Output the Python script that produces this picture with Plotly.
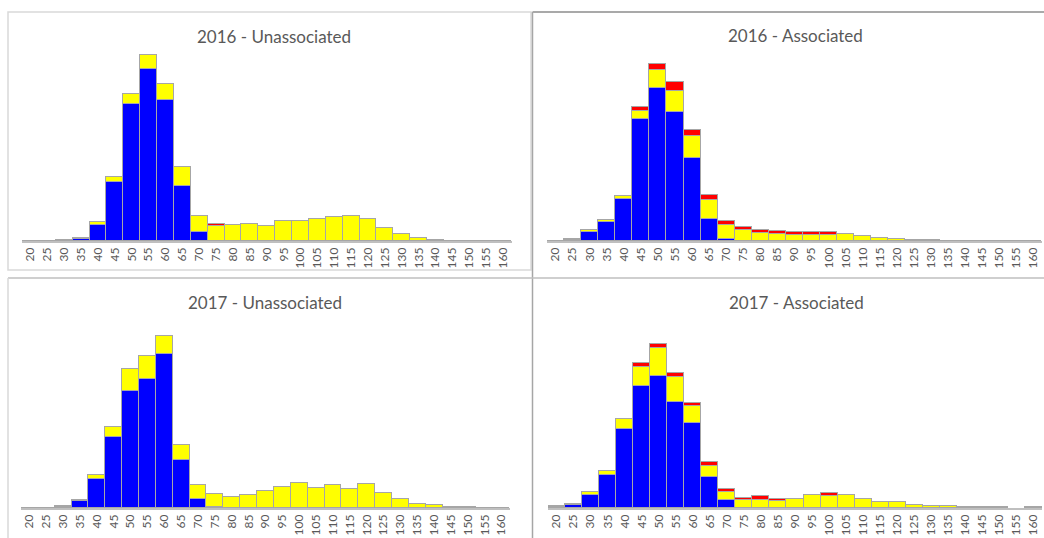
import plotly.graph_objects as go

# Length classes (cm) shared by all four histograms
length_bins = ["20", "25", "30", "35", "40", "45", "50", "55", "60", "65", "70", "75",
               "80", "85", "90", "95", "100", "105", "110", "115", "120", "125", "130",
               "135", "140", "145", "150", "155", "160"]

# 2016 - Unassociated (counts per class)
u16_blue   = [0, 0, 2, 7, 49, 176, 412, 517, 424, 166, 27, 0, 0, 0, 0, 0, 0, 0, 0, 0, 0, 0, 0, 0, 0, 0, 0, 0, 0]
u16_yellow = [1, 1, 2, 3, 8, 15, 30, 40, 46, 56, 49, 45, 47, 51, 45, 61, 61, 67, 73, 76, 67, 39, 21, 9, 4, 1, 1, 1, 1]
u16_red    = [0, 0, 0, 0, 0, 0, 0, 0, 0, 0, 0, 7, 0, 0, 0, 0, 0, 0, 0, 0, 0, 0, 0, 0, 0, 0, 0, 0, 0]

# 2016 - Associated
a16_blue   = [0, 2, 26, 58, 126, 365, 460, 386, 250, 67, 7, 0, 0, 0, 0, 0, 0, 0, 0, 0, 0, 0, 0, 0, 0, 0, 0, 0, 0]
a16_yellow = [1, 3, 6, 4, 9, 26, 52, 64, 64, 57, 42, 33, 25, 22, 18, 18, 18, 20, 14, 9, 6, 4, 2, 1, 1, 1, 1, 1, 1]
a16_red    = [0, 0, 0, 0, 0, 10, 19, 26, 18, 13, 10, 10, 9, 9, 8, 8, 8, 0, 0, 0, 0, 0, 0, 0, 0, 0, 0, 0, 0]

# 2017 - Unassociated
u17_blue   = [0, 0, 3, 20, 86, 212, 350, 388, 462, 143, 28, 4, 0, 0, 0, 0, 0, 0, 0, 0, 0, 0, 0, 0, 0, 0, 0, 0, 0]
u17_yellow = [1, 1, 3, 3, 12, 32, 67, 68, 55, 46, 40, 38, 34, 38, 52, 62, 74, 59, 68, 58, 71, 46, 27, 12, 9, 4, 2, 1, 1]
u17_red    = [0] * 29

# 2017 - Associated
a17_blue   = [3, 8, 39, 99, 237, 367, 395, 318, 255, 94, 23, 0, 0, 0, 0, 0, 0, 0, 0, 0, 0, 0, 0, 0, 0, 0, 0, 0, 0]
a17_yellow = [4, 5, 8, 11, 30, 57, 86, 75, 51, 32, 25, 24, 25, 21, 28, 38, 37, 38, 27, 17, 17, 9, 6, 6, 3, 3, 3, 0, 3]
a17_red    = [0, 0, 0, 0, 0, 12, 12, 13, 10, 12, 10, 7, 10, 7, 0, 0, 7, 0, 0, 0, 0, 0, 0, 0, 0, 0, 0, 0, 0]

panel_titles = ["2016 - Unassociated", "2016 - Associated", "2017 - Unassociated", "2017 - Associated"]

W, H = 1044, 538
Y_MAX = 588
FONT = "Lato"
TEXT = "#595959"
EDGE = "#a6a6a6"

def px(x):
    return x / W

def py(y):
    return 1 - y / H

# (series, x-pixel span, y-pixel span, title position) for each panel
panels = [
    ((u16_blue, u16_yellow, u16_red), (22, 511.5), (45, 241), (274, 36)),
    ((a16_blue, a16_yellow, a16_red), (547, 1042), (45, 241), (795, 35)),
    ((u17_blue, u17_yellow, u17_red), (21, 510), (312, 508), (265, 302)),
    ((a17_blue, a17_yellow, a17_red), (548, 1042), (312, 508), (796, 302)),
]

fig = go.Figure()
colors = ["#0000ff", "#ffff00", "#ff0000"]
annotations = []

for i, ((blue, yellow, red), (x0, x1), (ytop, ybot), (tx, ty)) in enumerate(panels):
    n = "" if i == 0 else str(i + 1)
    for vals, col in zip((blue, yellow, red), colors):
        # empty classes are left out so they draw no outline
        shown = [v if v else None for v in vals]
        fig.add_trace(go.Bar(
            x=length_bins, y=shown, xaxis="x" + n, yaxis="y" + n,
            marker=dict(color=col, line=dict(color=EDGE, width=1.2)),
            showlegend=False, hoverinfo="x+y",
        ))
    fig.layout["xaxis" + n] = dict(
        domain=[px(x0), px(x1)], anchor="y" + n, type="category",
        categoryorder="array", categoryarray=length_bins,
        range=[-0.5, len(length_bins) - 0.5],
        showline=True, linecolor="#bfbfbf", linewidth=1.5,
        showgrid=False, zeroline=False, ticks="", tickangle=-90,
        tickfont=dict(family=FONT, size=12, color=TEXT), fixedrange=True,
    )
    fig.layout["yaxis" + n] = dict(
        domain=[py(ybot), py(ytop)], anchor="x" + n, range=[0, Y_MAX],
        visible=False, showgrid=False, zeroline=False, fixedrange=True,
    )
    annotations.append(dict(
        text=panel_titles[i], x=px(tx), y=py(ty), xref="paper", yref="paper",
        xanchor="center", yanchor="middle", showarrow=False,
        font=dict(family=FONT, size=17, color=TEXT),
    ))

# Chart-frame borders around the panels
shapes = [
    dict(type="rect", x0=px(8), x1=px(531), y0=py(270), y1=py(12), xref="paper", yref="paper",
         line=dict(color="#d9d9d9", width=1.5)),
    dict(type="line", x0=px(532.5), x1=px(1044), y0=py(12), y1=py(12), xref="paper", yref="paper",
         line=dict(color="#8c8c8c", width=1.5)),
    dict(type="line", x0=px(532.5), x1=px(532.5), y0=py(12), y1=py(538), xref="paper", yref="paper",
         line=dict(color="#a6a6a6", width=1.5)),
    dict(type="line", x0=px(8), x1=px(1044), y0=py(278), y1=py(278), xref="paper", yref="paper",
         line=dict(color="#bfbfbf", width=1.5)),
    dict(type="line", x0=px(8), x1=px(8), y0=py(278), y1=py(538), xref="paper", yref="paper",
         line=dict(color="#d9d9d9", width=1.5)),
]

fig.update_layout(
    width=W, height=H, margin=dict(l=0, r=0, t=0, b=0),
    barmode="stack", bargap=0,
    paper_bgcolor="white", plot_bgcolor="white",
    annotations=annotations, shapes=shapes,
    font=dict(family=FONT, color=TEXT),
)

fig.write_html("out.html")
